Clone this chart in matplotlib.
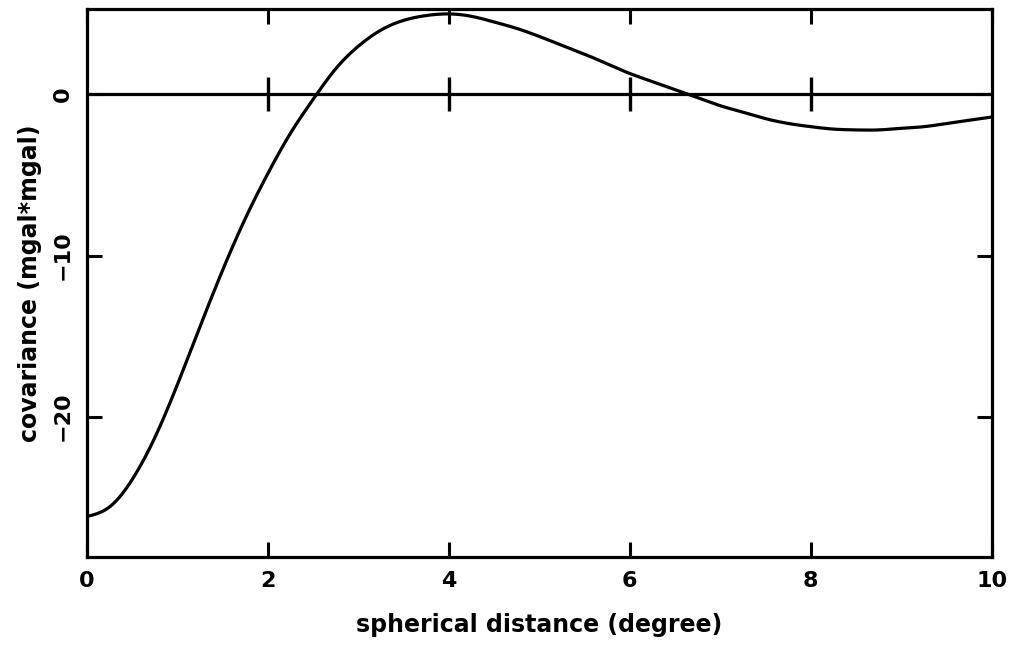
import matplotlib
matplotlib.use("Agg")
import matplotlib.pyplot as plt
import numpy as np

plt.rcParams['font.family'] = ['DejaVu Sans']

distance = [0, 0.25, 0.5, 0.75, 1.0, 1.25, 1.5, 1.75, 2.0, 2.25, 2.5, 2.75, 3.0, 3.25,
            3.5, 3.75, 4.0, 4.25, 4.5, 4.75, 5.0, 5.25, 5.5, 5.75, 6.0, 6.25, 6.5,
            6.75, 7.0, 7.25, 7.5, 7.75, 8.0, 8.25, 8.5, 8.75, 9.0, 9.25, 9.5, 9.75, 10.0]
covariance = [-26.2, -25.6, -23.9, -21.3, -18.0, -14.4, -10.9, -7.7, -4.9, -2.4, -0.3,
              1.6, 3.0, 4.0, 4.6, 4.9, 5.0, 4.85, 4.5, 4.1, 3.6, 3.05, 2.5, 1.9, 1.3, 0.8,
              0.3, -0.2, -0.7, -1.1, -1.5, -1.8, -2.0, -2.15, -2.2, -2.2, -2.1, -2.0,
              -1.8, -1.6, -1.4]
xticks = [0, 2, 4, 6, 8, 10]
yticks = [0, -10, -20]


def smooth(x, y, n=800):
    # natural cubic spline through the read points, for drawing only
    x = np.asarray(x, float)
    y = np.asarray(y, float)
    h = np.diff(x)
    m = len(x)
    A = np.zeros((m, m))
    b = np.zeros(m)
    A[0, 0] = 1
    A[-1, -1] = 1
    for i in range(1, m - 1):
        A[i, i - 1] = h[i - 1]
        A[i, i] = 2 * (h[i - 1] + h[i])
        A[i, i + 1] = h[i]
        b[i] = 3 * ((y[i + 1] - y[i]) / h[i] - (y[i] - y[i - 1]) / h[i - 1])
    c = np.linalg.solve(A, b)
    xs = np.linspace(x[0], x[-1], n)
    idx = np.clip(np.searchsorted(x, xs) - 1, 0, m - 2)
    dx = xs - x[idx]
    hi = h[idx]
    bb = (y[idx + 1] - y[idx]) / hi - hi * (2 * c[idx] + c[idx + 1]) / 3
    dd = (c[idx + 1] - c[idx]) / (3 * hi)
    ys = y[idx] + bb * dx + c[idx] * dx ** 2 + dd * dx ** 3
    return xs, ys


fig = plt.figure(figsize=(10.11, 6.49), dpi=100)
ax = fig.add_axes([0.086, 0.142, 0.895, 0.844])
xs, ys = smooth(distance, covariance)
ax.plot(xs, ys, color='black', lw=2.3, solid_capstyle='round')
ax.axhline(0, color='black', lw=2.3)
inner = [t for t in xticks if 0 < t < 10]
ax.plot(inner, [0] * len(inner), ls='none', marker='|', ms=24, mew=2.4, color='black')

ax.set_xlim(0, 10)
ax.set_ylim(-28.7, 5.3)
ax.set_xticks(xticks)
ax.set_yticks(yticks)
ax.set_yticklabels(['0', '\u221210', '\u221220'], rotation=90, va='center')
ax.tick_params(direction='in', length=11, width=2.2, top=True, right=True,
               labelsize=16, pad=10)
ax.tick_params(axis='y', pad=10)
for lab in ax.get_xticklabels() + ax.get_yticklabels():
    lab.set_fontweight('bold')
for s in ax.spines.values():
    s.set_linewidth(2.3)
ax.set_xlabel('spherical distance (degree)', fontsize=17, fontweight='bold', labpad=None) if False else None
ax.set_xlabel('spherical distance (degree)', fontsize=17, fontweight='bold', labelpad=16)
ax.set_ylabel('covariance (mgal*mgal)', fontsize=17, fontweight='bold', labelpad=8)
fig.savefig('out.png', dpi=100)
